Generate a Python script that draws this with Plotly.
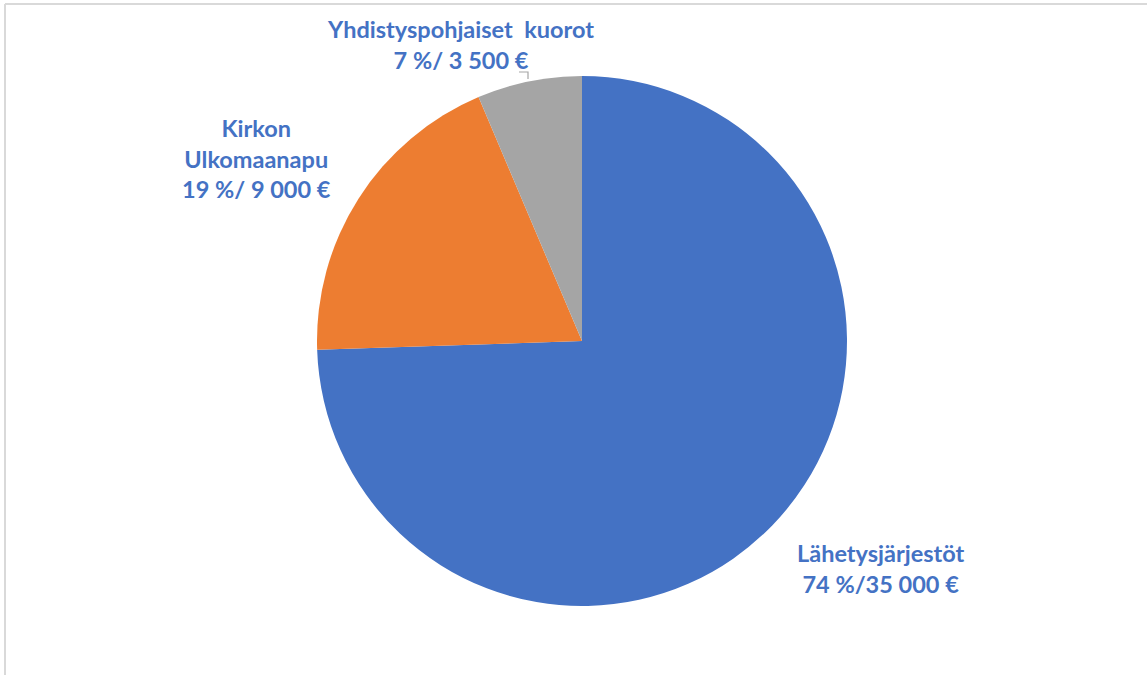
import plotly.graph_objects as go

# data
categories = ["Lähetysjärjestöt", "Kirkon Ulkomaanapu", "Yhdistyspohjaiset kuorot"]
amounts = [35000, 9000, 3000]  # slice sizes as drawn in the picture
label_texts = [
    "Lähetysjärjestöt<br>74 %/35 000 €",
    "Kirkon<br>Ulkomaanapu<br>19 %/ 9 000 €",
    "Yhdistyspohjaiset  kuorot<br>7 %/ 3 500 €",
]
colors = ["#4472C4", "#ED7D31", "#A5A5A5"]

W, H = 1147, 675
cx, cy, r = 582, 341, 265

fig = go.Figure()
fig.add_trace(
    go.Pie(
        labels=categories,
        values=amounts,
        sort=False,
        direction="clockwise",
        rotation=0,
        textinfo="none",
        hoverinfo="label+value+percent",
        marker=dict(colors=colors, line=dict(width=0)),
        domain=dict(
            x=[(cx - r) / W, (cx + r) / W],
            y=[(H - cy - r) / H, (H - cy + r) / H],
        ),
        showlegend=False,
    )
)

# label positions (pixels: center x, center y)
label_pos = [(880, 568), (256, 159), (460, 44)]
for txt, (lx, ly) in zip(label_texts, label_pos):
    fig.add_annotation(
        x=lx / W,
        y=1 - ly / H,
        xref="paper",
        yref="paper",
        text=txt,
        showarrow=False,
        align="center",
        xanchor="center",
        yanchor="middle",
        font=dict(family="Lato", size=23.5, color="#4472C4", weight="bold"),
    )

# small leader line for the grey slice label
fig.add_shape(
    type="path",
    xref="paper",
    yref="paper",
    path="M {} {} L {} {} L {} {}".format(
        519 / W, 1 - 72 / H, 528 / W, 1 - 72 / H, 528 / W, 1 - 79 / H
    ),
    line=dict(color="#A6A6A6", width=1.2),
)

# chart frame (top and left edge visible)
fig.add_shape(type="line", xref="paper", yref="paper",
              x0=5 / W, x1=1, y0=1 - 4 / H, y1=1 - 4 / H,
              line=dict(color="#D9D9D9", width=2))
fig.add_shape(type="line", xref="paper", yref="paper",
              x0=5 / W, x1=5 / W, y0=0, y1=1 - 4 / H,
              line=dict(color="#D9D9D9", width=2))

fig.update_layout(
    width=W,
    height=H,
    margin=dict(l=0, r=0, t=0, b=0),
    paper_bgcolor="white",
    plot_bgcolor="white",
)

fig.write_html(
    "out.html",
    config={"displayModeBar": False},
    post_script="document.body.style.margin='0';document.body.style.overflow='hidden';",
)
